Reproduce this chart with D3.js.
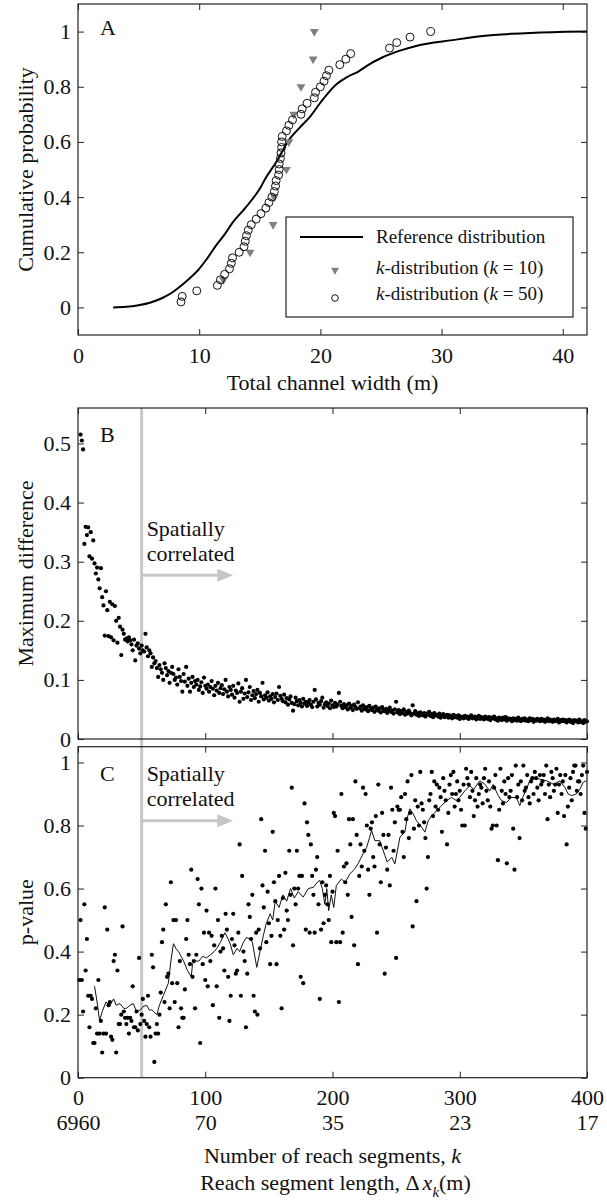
<!DOCTYPE html>
<html>
<head>
<meta charset="utf-8">
<script src="https://cdn.jsdelivr.net/npm/d3@7"></script>
<style>
  body { margin: 0; background: #fff; }
</style>
</head>
<body>
<svg id="chart" width="607" height="1200"></svg>
<script>
// ---------- Panel A: cumulative distributions of total channel width ----------
const refWidth = [2.9, 4.0, 5.0, 6.0, 7.0, 7.8, 8.4, 9.2, 10.0, 10.7, 11.4, 12.1, 12.8, 13.6, 14.4, 15.0, 15.5,
  16.35, 17.45, 18.3, 19.1, 20.0, 20.6, 21.3, 22.2, 23.2, 23.8, 25.1, 26.5, 27.9, 30.9, 33.4, 35.8, 39.1, 42.0];
const refProb = [0, 0.002, 0.008, 0.018, 0.035, 0.055, 0.075, 0.105, 0.14, 0.18, 0.225, 0.265, 0.31, 0.35, 0.393, 0.43, 0.47,
  0.526, 0.61, 0.652, 0.689, 0.742, 0.775, 0.808, 0.835, 0.857, 0.875, 0.906, 0.930, 0.948, 0.969, 0.984, 0.992, 0.998, 1.0];

const k10Width = [12.0, 14.2, 16.1, 16.2, 17.2, 17.4, 17.8, 18.4, 19.4, 19.5];
const k10Prob = [0.1, 0.2, 0.3, 0.4, 0.5, 0.6, 0.7, 0.8, 0.9, 1.0];

const k50Width = [8.5, 8.6, 9.8, 11.5, 11.75, 12.1, 12.5, 12.65, 12.75, 13.3, 13.7, 13.8, 13.9, 14.05, 14.3, 14.7,
  15.1, 15.5, 15.75, 16.0, 16.2, 16.3, 16.35, 16.55, 16.6, 16.6, 16.7, 16.75, 16.8, 16.8, 16.85, 17.2, 17.4, 17.7,
  18.4, 18.5, 18.9, 19.5, 19.6, 20.0, 20.3, 20.5, 20.7, 21.6, 22.1, 22.5, 25.7, 26.3, 27.4, 29.1];
const k50Prob = [0.02, 0.04, 0.06, 0.08, 0.10, 0.12, 0.14, 0.16, 0.18, 0.20, 0.22, 0.24, 0.26, 0.28, 0.30, 0.32,
  0.34, 0.36, 0.38, 0.40, 0.42, 0.44, 0.46, 0.48, 0.50, 0.52, 0.54, 0.56, 0.58, 0.60, 0.62, 0.64, 0.66, 0.68,
  0.70, 0.72, 0.74, 0.76, 0.78, 0.80, 0.82, 0.84, 0.86, 0.88, 0.90, 0.92, 0.94, 0.96, 0.98, 1.00];

const widthTicks = [0, 10, 20, 30, 40];
const probTicks = [0, 0.2, 0.4, 0.6, 0.8, 1];

// ---------- Panel B: maximum difference against number of segments ----------
const maxDiffStartK = 2;
const maxDiff = [
  0.515,0.505,0.490,0.330,0.359,0.345,0.358,0.309,0.350,0.305,
  0.336,0.297,0.280,0.290,0.270,0.255,0.289,0.240,0.226,0.175,
  0.250,0.218,0.174,0.232,0.172,0.228,0.167,0.225,0.200,0.163,
  0.205,0.190,0.142,0.185,0.178,0.168,0.170,0.165,0.172,0.167,
  0.160,0.150,0.168,0.133,0.158,0.162,0.153,0.145,0.158,0.150,
  0.148,0.178,0.155,0.140,0.150,0.145,0.122,0.138,0.128,0.132,
  0.120,0.105,0.125,0.118,0.112,0.100,0.128,0.120,0.108,0.115,
  0.095,0.112,0.122,0.110,0.100,0.104,0.092,0.118,0.105,0.098,
  0.080,0.110,0.097,0.122,0.090,0.102,0.080,0.095,0.105,0.088,
  0.098,0.092,0.100,0.083,0.089,0.096,0.078,0.104,0.090,0.085,
  0.092,0.080,0.088,0.098,0.085,0.074,0.090,0.082,0.095,0.078,
  0.086,0.091,0.076,0.084,0.100,0.080,0.072,0.088,0.083,0.075,
  0.090,0.070,0.082,0.078,0.094,0.063,0.080,0.086,0.068,0.077,
  0.100,0.071,0.079,0.088,0.066,0.074,0.081,0.069,0.076,0.083,
  0.063,0.078,0.072,0.095,0.067,0.074,0.070,0.079,0.065,0.072,
  0.068,0.076,0.062,0.071,0.077,0.066,0.088,0.073,0.068,0.064,
  0.075,0.062,0.069,0.058,0.067,0.072,0.061,0.048,0.059,0.070,
  0.064,0.057,0.066,0.061,0.055,0.068,0.060,0.063,0.056,0.062,
  0.066,0.058,0.054,0.063,0.083,0.067,0.055,0.061,0.058,0.064,
  0.070,0.053,0.059,0.062,0.056,0.060,0.052,0.065,0.057,0.054,
  0.061,0.055,0.058,0.078,0.063,0.056,0.052,0.059,0.054,0.057,
  0.050,0.060,0.053,0.056,0.049,0.058,0.054,0.051,0.062,0.052,
  0.055,0.048,0.057,0.052,0.050,0.054,0.047,0.056,0.051,0.049,
  0.053,0.046,0.055,0.050,0.048,0.052,0.045,0.054,0.049,0.047,
  0.051,0.044,0.049,0.053,0.046,0.048,0.043,0.050,0.063,0.045,
  0.049,0.042,0.047,0.044,0.050,0.041,0.046,0.043,0.048,0.044,
  0.040,0.057,0.043,0.047,0.041,0.044,0.039,0.045,0.042,0.040,
  0.044,0.038,0.043,0.041,0.046,0.039,0.042,0.037,0.044,0.040,
  0.041,0.038,0.043,0.036,0.040,0.042,0.037,0.039,0.041,0.036,
  0.040,0.038,0.035,0.041,0.037,0.039,0.036,0.040,0.034,0.038,
  0.037,0.035,0.039,0.036,0.038,0.034,0.037,0.040,0.035,0.036,
  0.038,0.033,0.036,0.039,0.034,0.037,0.035,0.033,0.038,0.036,
  0.034,0.037,0.032,0.036,0.035,0.038,0.033,0.035,0.031,0.036,
  0.034,0.032,0.036,0.033,0.037,0.031,0.035,0.033,0.034,0.030,
  0.035,0.032,0.034,0.031,0.036,0.033,0.030,0.034,0.032,0.035,
  0.031,0.033,0.030,0.035,0.032,0.034,0.029,0.033,0.031,0.034,
  0.032,0.030,0.034,0.031,0.033,0.029,0.032,0.035,0.030,0.033,
  0.031,0.029,0.033,0.030,0.032,0.034,0.028,0.032,0.030,0.033,
  0.030,0.032,0.028,0.031,0.033,0.029,0.031,0.027,0.032,0.030,
  0.031,0.028,0.033,0.029,0.030,0.027,0.032,0.029,0.030
];
const diffTicks = [0, 0.1, 0.2, 0.3, 0.4, 0.5];

// ---------- Panel C: p-values against number of segments ----------
const pValueStartK = 1;
const pValue = [
  0.31,0.50,0.31,0.21,0.55,0.34,0.44,0.26,0.16,0.26,
  0.25,0.11,0.11,0.22,0.14,0.31,0.14,0.18,0.08,0.14,
  0.54,0.14,0.47,0.23,0.24,0.13,0.12,0.37,0.39,0.08,
  0.34,0.17,0.17,0.20,0.48,0.21,0.19,0.17,0.19,0.14,
  0.19,0.18,0.29,0.16,0.16,0.21,0.15,0.38,0.17,0.20,
  0.25,0.18,0.13,0.17,0.26,0.16,0.13,0.39,0.35,0.05,
  0.14,0.17,0.14,0.20,0.27,0.43,0.47,0.24,0.55,0.32,
  0.33,0.22,0.62,0.30,0.50,0.24,0.50,0.30,0.16,0.37,
  0.22,0.19,0.19,0.28,0.44,0.50,0.39,0.36,0.66,0.32,
  0.37,0.22,0.39,0.63,0.55,0.11,0.60,0.36,0.46,0.31,
  0.53,0.29,0.46,0.37,0.45,0.23,0.42,0.60,0.29,0.50,
  0.19,0.40,0.45,0.41,0.34,0.52,0.47,0.32,0.18,0.26,
  0.44,0.52,0.42,0.33,0.34,0.46,0.74,0.26,0.64,0.40,
  0.37,0.16,0.33,0.55,0.51,0.44,0.58,0.26,0.21,0.46,
  0.20,0.47,0.41,0.82,0.61,0.54,0.72,0.43,0.59,0.49,
  0.36,0.45,0.78,0.62,0.56,0.36,0.50,0.64,0.45,0.22,
  0.57,0.47,0.65,0.53,0.50,0.72,0.58,0.92,0.42,0.60,
  0.55,0.72,0.60,0.64,0.32,0.64,0.30,0.87,0.47,0.81,
  0.77,0.46,0.74,0.64,0.58,0.46,0.66,0.70,0.55,0.25,
  0.47,0.62,0.49,0.58,0.61,0.55,0.50,0.64,0.43,0.59,
  0.84,0.83,0.43,0.72,0.24,0.43,0.90,0.46,0.67,0.62,
  0.68,0.58,0.82,0.74,0.51,0.82,0.42,0.94,0.77,0.36,
  0.64,0.74,0.67,0.92,0.72,0.90,0.80,0.66,0.58,0.79,
  0.81,0.70,0.67,0.83,0.46,0.93,0.74,0.62,0.84,0.77,
  0.33,0.73,0.66,0.77,0.61,0.92,0.85,0.72,0.81,0.38,
  0.86,0.85,0.85,0.89,0.78,0.70,0.90,0.82,0.94,0.76,
  0.84,0.96,0.48,0.79,0.88,0.56,0.86,0.80,0.97,0.87,
  0.85,0.81,0.76,0.60,0.70,0.88,0.90,0.97,0.83,0.94,
  0.86,0.93,0.85,0.92,0.89,0.78,0.95,0.91,0.88,0.74,
  0.84,0.93,0.96,0.90,0.97,0.86,0.90,0.94,0.88,0.91,
  0.85,0.80,0.93,0.80,0.98,0.95,0.93,0.89,0.97,0.91,
  0.83,0.88,0.95,0.86,0.90,0.93,0.92,0.87,0.95,0.98,
  0.91,0.88,0.94,0.86,0.79,0.80,0.92,0.96,0.80,0.69,
  0.85,0.98,0.91,0.87,0.94,0.90,0.68,0.95,0.89,0.91,
  0.96,0.79,0.66,0.99,0.89,0.93,0.76,0.94,0.88,0.99,
  0.91,0.92,0.96,0.89,0.87,0.94,0.95,0.90,0.97,0.95,
  0.92,0.88,0.96,0.93,0.94,0.96,0.90,0.99,0.82,0.93,
  0.89,0.97,0.95,0.91,0.93,0.98,0.84,0.93,0.96,0.90,
  0.94,0.83,0.96,0.74,0.86,0.92,0.95,0.88,0.97,0.99,
  0.99,0.91,0.94,0.94,0.90,0.96,0.99,0.84,0.79,0.97
];

// running mean of the p-values
const meanK = [13,15,17,19,22,25,28,30,33,36,38,41,43.5,46,49,51,54,56,58,62,64,67,71,73,75,77,79,83,86,89,90,92,
  95,98,101,104,107,109,112,115.5,118,120,122,125,127,130,132.5,135,137,140.5,143,145.6,148,151,153,155,158,161,
  164,167,170,173,177,181,185,188,190,192,194,195.5,197,199,201,203,207,210,213.7,217,220,224,226.8,229,230.7,
  233.3,237.2,239,241.2,243,246.6,249,251,253,256.9,258.5,260.8,263.4,266,270,272.6,275.2,277.8,281.8,285.7,
  289.6,293.5,297.4,300,304,307.9,311,315.8,319.7,323.6,326.2,330.2,332.8,336.8,340.5,344.6,347.2,349.5,352.4,
  355,359,363,368,370.8,374,378.6,382.6,385.2,387.8,391.7,394.4,397,399.6];
const meanP = [0.29,0.24,0.18,0.21,0.24,0.23,0.25,0.23,0.235,0.22,0.22,0.23,0.235,0.21,0.215,0.225,0.23,0.215,0.215,
  0.20,0.23,0.26,0.30,0.37,0.425,0.41,0.40,0.37,0.34,0.32,0.36,0.37,0.37,0.385,0.38,0.39,0.40,0.41,0.43,0.46,0.44,
  0.42,0.39,0.41,0.40,0.43,0.445,0.44,0.43,0.35,0.40,0.45,0.49,0.52,0.50,0.56,0.54,0.58,0.56,0.60,0.57,0.59,0.573,
  0.60,0.604,0.62,0.626,0.60,0.55,0.60,0.53,0.58,0.54,0.61,0.63,0.62,0.647,0.66,0.678,0.71,0.73,0.76,0.784,0.752,
  0.752,0.73,0.705,0.684,0.699,0.678,0.72,0.763,0.779,0.82,0.853,0.837,0.815,0.795,0.779,0.815,0.83,0.847,0.863,
  0.879,0.889,0.879,0.889,0.91,0.926,0.915,0.942,0.931,0.91,0.93,0.895,0.879,0.873,0.889,0.889,0.863,0.889,0.915,
  0.942,0.952,0.947,0.942,0.937,0.93,0.942,0.921,0.90,0.895,0.90,0.915,0.937,0.942];
const pTicks = [0, 0.2, 0.4, 0.6, 0.8, 1];

// shared segment axis
const segTicks = [0, 100, 200, 300, 400];
const segLengthLabels = ["6960", "70", "35", "23", "17"];
const correlationK = 50;     // spatial correlation threshold
const arrowEndK = 122;

// ---------- layout ----------
const SERIF = '"Liberation Serif", "Times New Roman", Times, serif';
const svg = d3.select("#chart");
const FONT = 22;
const L = 78, R = 587;
const xA = d3.scaleLinear([0, 42], [L, R]);
const yA = d3.scaleLinear([-0.1, 1.1], [335, 4]);
const xK = d3.scaleLinear([0, 400], [L, R]);
const yB = d3.scaleLinear([0, 0.56], [739, 408]);
const yC = d3.scaleLinear([0, 1.05], [1077.7, 746.7]);
const fmt = d3.format("~g");

function frame(x, y, xTicks, yTicks, xLabels) {
  const [x0, x1] = x.range();
  const [y0, y1] = y.range();
  const style = g => g.attr("font-size", FONT).attr("color", "#222")
    .call(s => s.select(".domain").remove());
  svg.append("g").attr("transform", `translate(0,${y0})`)
    .call(d3.axisBottom(x).tickValues(xTicks).tickSize(-6).tickPadding(12)
      .tickFormat(xLabels ? fmt : () => "")).call(style);
  svg.append("g").attr("transform", `translate(0,${y1})`)
    .call(d3.axisTop(x).tickValues(xTicks).tickSize(-6).tickFormat(() => "")).call(style);
  svg.append("g").attr("transform", `translate(${x0},0)`)
    .call(d3.axisLeft(y).tickValues(yTicks).tickSize(-6).tickPadding(7).tickFormat(fmt)).call(style);
  svg.append("g").attr("transform", `translate(${x1},0)`)
    .call(d3.axisRight(y).tickValues(yTicks).tickSize(-6).tickFormat(() => "")).call(style);
  svg.append("rect").attr("x", x0).attr("y", y1).attr("width", x1 - x0).attr("height", y0 - y1)
    .attr("fill", "none").attr("stroke", "#222").attr("stroke-width", 1.2);
}

function yTitle(text, y) {
  const [b, t] = y.range();
  svg.append("text").attr("transform", `translate(33,${(b + t) / 2}) rotate(-90)`)
    .attr("text-anchor", "middle").attr("font-size", FONT).text(text);
}

function panelLetter(text, yPos) {
  svg.append("text").attr("x", 100).attr("y", yPos).attr("font-size", FONT).text(text);
}

// ---------- Panel A ----------
svg.append("clipPath").attr("id", "clipA").append("rect")
  .attr("x", L).attr("y", 4).attr("width", R - L).attr("height", 331);

svg.append("path")
  .datum(refWidth.map((w, i) => [w, refProb[i]]))
  .attr("clip-path", "url(#clipA)")
  .attr("fill", "none").attr("stroke", "#000").attr("stroke-width", 2)
  .attr("d", d3.line().curve(d3.curveMonotoneX).x(d => xA(d[0])).y(d => yA(d[1])));

const tri = d3.symbol().type(d3.symbolTriangle).size(34);
svg.append("g").selectAll("path").data(k10Width).join("path")
  .attr("transform", (d, i) => `translate(${xA(d)},${yA(k10Prob[i])}) rotate(180)`)
  .attr("d", tri).attr("fill", "#808080");

svg.append("g").selectAll("circle").data(k50Width).join("circle")
  .attr("cx", d => xA(d)).attr("cy", (d, i) => yA(k50Prob[i])).attr("r", 4)
  .attr("fill", "none").attr("stroke", "#111").attr("stroke-width", 1);

frame(xA, yA, widthTicks, probTicks, true);
yTitle("Cumulative probability", yA);
panelLetter("A", 35);
svg.append("text").attr("x", (L + R) / 2).attr("y", 390).attr("text-anchor", "middle")
  .attr("font-size", FONT).text("Total channel width (m)");

// legend
const lg = svg.append("g").attr("font-size", 19);
lg.append("rect").attr("x", 286).attr("y", 217).attr("width", 287).attr("height", 100)
  .attr("fill", "#fff").attr("stroke", "#222").attr("stroke-width", 1.2);
lg.append("line").attr("x1", 300).attr("x2", 363).attr("y1", 237).attr("y2", 237)
  .attr("stroke", "#000").attr("stroke-width", 2);
lg.append("text").attr("x", 376).attr("y", 243).text("Reference distribution");
lg.append("path").attr("transform", "translate(335,270) rotate(180)")
  .attr("d", d3.symbol().type(d3.symbolTriangle).size(28)).attr("fill", "#808080");
const t2 = lg.append("text").attr("x", 376).attr("y", 274);
t2.append("tspan").attr("font-style", "italic").text("k");
t2.append("tspan").text("-distribution (");
t2.append("tspan").attr("font-style", "italic").text("k");
t2.append("tspan").text(" = 10)");
lg.append("circle").attr("cx", 335).attr("cy", 298).attr("r", 3.3)
  .attr("fill", "none").attr("stroke", "#111").attr("stroke-width", 1);
const t3 = lg.append("text").attr("x", 376).attr("y", 300);
t3.append("tspan").attr("font-style", "italic").text("k");
t3.append("tspan").text("-distribution (");
t3.append("tspan").attr("font-style", "italic").text("k");
t3.append("tspan").text(" = 50)");

// ---------- threshold line shared by B and C ----------
const grey = "#c6c6c6";
svg.append("line").attr("x1", xK(correlationK)).attr("x2", xK(correlationK))
  .attr("y1", yB.range()[1]).attr("y2", yC.range()[0])
  .attr("stroke", grey).attr("stroke-width", 3);

function arrow(yScale, value) {
  const yy = yScale(value);
  const x0 = xK(correlationK), x1 = xK(arrowEndK);
  svg.append("line").attr("x1", x0).attr("x2", x1 - 14).attr("y1", yy).attr("y2", yy)
    .attr("stroke", grey).attr("stroke-width", 3);
  svg.append("path").attr("d", `M${x1 - 16},${yy - 6.5}L${x1},${yy}L${x1 - 16},${yy + 6.5}Z`).attr("fill", grey);
}

function spatialLabel(yFirst) {
  const x = xK(correlationK) + 5;
  svg.append("text").attr("x", x).attr("y", yFirst).attr("font-size", FONT).text("Spatially");
  svg.append("text").attr("x", x).attr("y", yFirst + 25).attr("font-size", FONT).text("correlated");
}

// ---------- Panel B ----------
svg.append("g").selectAll("circle").data(maxDiff).join("circle")
  .attr("cx", (d, i) => xK(maxDiffStartK + i)).attr("cy", d => yB(d)).attr("r", 2.1).attr("fill", "#000");
arrow(yB, 0.277);
spatialLabel(536);
frame(xK, yB, segTicks, diffTicks, false);
yTitle("Maximum difference", yB);
panelLetter("B", 442);

// ---------- Panel C ----------
svg.append("path")
  .datum(meanK.map((k, i) => [k, meanP[i]]))
  .attr("fill", "none").attr("stroke", "#111").attr("stroke-width", 1)
  .attr("d", d3.line().x(d => xK(d[0])).y(d => yC(d[1])));
svg.append("g").selectAll("circle").data(pValue).join("circle")
  .attr("cx", (d, i) => xK(pValueStartK + i)).attr("cy", d => yC(d)).attr("r", 2.1).attr("fill", "#000");
arrow(yC, 0.815);
spatialLabel(781);
frame(xK, yC, segTicks, pTicks, true);
yTitle("p-value", yC);
panelLetter("C", 781);

// second row of labels: reach segment length
svg.append("g").attr("transform", `translate(0,${yC.range()[0]})`)
  .call(d3.axisBottom(xK).tickValues(segTicks).tickSize(0).tickPadding(37)
    .tickFormat((d, i) => segLengthLabels[i]))
  .attr("font-size", FONT).attr("color", "#222")
  .call(g => g.select(".domain").remove());

const t4 = svg.append("text").attr("x", (L + R) / 2).attr("y", 1163).attr("text-anchor", "middle").attr("font-size", FONT);
t4.append("tspan").text("Number of reach segments, ");
t4.append("tspan").attr("font-style", "italic").text("k");
const t5 = svg.append("text").attr("x", (L + R) / 2 + 3).attr("y", 1190).attr("text-anchor", "middle").attr("font-size", FONT);
t5.append("tspan").text("Reach segment length, Δ");
t5.append("tspan").attr("font-style", "italic").attr("dx", 3).text("x");
t5.append("tspan").attr("font-style", "italic").attr("font-size", 15).attr("dy", 7).text("k");
t5.append("tspan").attr("dy", -7).text("(m)");

// serif face for every label
svg.selectAll("text").style("font-family", SERIF).style("fill", "#111");
</script>
</body>
</html>
